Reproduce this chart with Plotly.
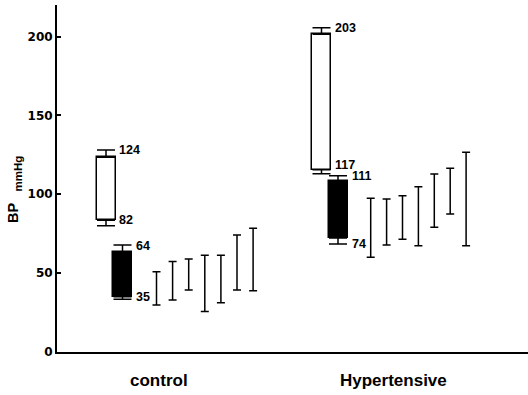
import plotly.graph_objects as go

# ---------------- data ----------------
categories = ["control", "Hypertensive"]

white_low = [83.5, 115.5]
white_high = [123.5, 201.5]
white_cap_low = [80.0, 113.0]
white_cap_high = [128.0, 205.5]

black_low = [35.0, 72.3]
black_high = [63.5, 108.5]
black_cap_low = [33.5, 68.5]
black_cap_high = [67.8, 111.7]

white_hi_label = [124, 203]
white_lo_label = [82, 117]
black_hi_label = [64, 111]
black_lo_label = [35, 74]

range_low = [
    [29.8, 33.0, 39.3, 25.6, 31.3, 39.3, 38.9],
    [60.0, 67.9, 71.5, 67.4, 79.1, 87.5, 67.3],
]
range_high = [
    [50.9, 57.3, 59.0, 61.3, 61.3, 74.2, 78.5],
    [97.5, 97.0, 99.1, 104.8, 112.9, 116.5, 126.6],
]

y_ticks = [0, 50, 100, 150, 200]

# ---------------- layout constants ----------------
GROUP_X = [106.0, 321.5]
BLACK_OFFSET = 16.5
BAR_START = [50.5, 49.2]
BAR_STEP = [16.1, 15.9]
BOX_W = 19
CAT_LABEL_X = [159, 393]
FONT = "Liberation Sans, Arial, sans-serif"

white_x = list(GROUP_X)
black_x = [g + BLACK_OFFSET for g in GROUP_X]

fig = go.Figure()

# white boxes
fig.add_trace(go.Bar(
    x=white_x, y=[h - l for h, l in zip(white_high, white_low)], base=white_low,
    width=BOX_W, marker=dict(color="white", line=dict(color="black", width=1.5)),
    showlegend=False, hoverinfo="skip"))
# black boxes
fig.add_trace(go.Bar(
    x=black_x, y=[h - l for h, l in zip(black_high, black_low)], base=black_low,
    width=BOX_W, marker=dict(color="black", line=dict(color="black", width=1.5)),
    showlegend=False, hoverinfo="skip"))

invisible = dict(size=1, color="rgba(0,0,0,0)")

def whisker(xs, ys, up, down, w):
    fig.add_trace(go.Scatter(
        x=xs, y=ys, mode="markers", marker=invisible, showlegend=False, hoverinfo="skip",
        error_y=dict(type="data", symmetric=False, array=up, arrayminus=down,
                     color="black", thickness=1.5, width=w)))

# whiskers of boxes
whisker(white_x, white_high, [c - h for c, h in zip(white_cap_high, white_high)], [0, 0], 9)
whisker(white_x, white_low, [0, 0], [l - c for l, c in zip(white_low, white_cap_low)], 9)
whisker(black_x, black_high, [c - h for c, h in zip(black_cap_high, black_high)], [0, 0], 9)
whisker(black_x, black_low, [0, 0], [l - c for l, c in zip(black_low, black_cap_low)], 9)

# range bars
for g in range(2):
    xs = [GROUP_X[g] + BAR_START[g] + i * BAR_STEP[g] for i in range(len(range_low[g]))]
    mids = [(h + l) / 2 for h, l in zip(range_high[g], range_low[g])]
    half = [(h - l) / 2 for h, l in zip(range_high[g], range_low[g])]
    whisker(xs, mids, half, half, 4)

annotations = []
label_font = dict(family=FONT, size=12.5, color="black", weight="bold")

def lab(x, y, text, yshift=0):
    annotations.append(dict(x=x, y=y, xref="x", yref="y", text=str(text), showarrow=False,
                            xanchor="left", yanchor="middle", font=label_font, yshift=yshift))

for g in range(2):
    lab(white_x[g] + BOX_W / 2 + 1.5, white_cap_high[g], white_hi_label[g])
    lab(white_x[g] + BOX_W / 2 + 1.5, white_low[g], white_lo_label[g], yshift=(0 if g == 0 else 5))
    lab(black_x[g] + BOX_W / 2 + 2, black_cap_high[g], black_hi_label[g], yshift=(-1 if g == 0 else 0))
    lab(black_x[g] + BOX_W / 2 + 2, black_low[g] if g == 0 else black_cap_low[g], black_lo_label[g])

for g, cat in enumerate(categories):
    annotations.append(dict(x=CAT_LABEL_X[g], y=-0.081, xref="x", yref="paper", text=cat,
                            showarrow=False, xanchor="center", yanchor="middle",
                            font=dict(family=FONT, size=17, color="black", weight="bold")))

# y title
annotations.append(dict(x=13, y=213, xref="paper", yref="paper", text="BP", showarrow=False,
                        textangle=-90, xanchor="center", yanchor="middle",
                        font=dict(family=FONT, size=14.5, color="black", weight="bold")))
fig.update_layout(annotations=annotations)

# convert pixel-based title annotations to paper coords
W, H = 528, 395
ML, MR, MT, MB = 57, 0, 5, 43
pw, ph = W - ML - MR, H - MT - MB

def to_paper(px, py):
    return (px - ML) / pw, (H - MB - py) / ph

ax, ay = to_paper(13, 213)
fig.layout.annotations[-1].update(x=ax, y=ay)
mx, my = to_paper(17.5, 174)
fig.add_annotation(x=mx, y=my, xref="paper", yref="paper", text="mmHg", showarrow=False,
                   textangle=-90, xanchor="center", yanchor="middle",
                   font=dict(family=FONT, size=11.5, color="black", weight="bold"))

fig.update_layout(
    width=W, height=H,
    margin=dict(l=ML, r=MR, t=MT, b=MB, pad=0),
    paper_bgcolor="white", plot_bgcolor="white",
    barmode="overlay", bargap=0,
    showlegend=False,
    xaxis=dict(range=[57, 528], showline=True, linecolor="black", linewidth=2,
               showgrid=False, zeroline=False, showticklabels=False, ticks=""),
    yaxis=dict(range=[0, 220], showline=True, linecolor="black", linewidth=2,
               showgrid=False, zeroline=False, tickvals=y_ticks, ticktext=[str(t) for t in y_ticks],
               ticks="inside", ticklen=4, tickwidth=1.5, tickcolor="black",
               tickfont=dict(family="DejaVu Sans", size=12, color="black", weight="bold")),
)

fig.write_html("out.html")
